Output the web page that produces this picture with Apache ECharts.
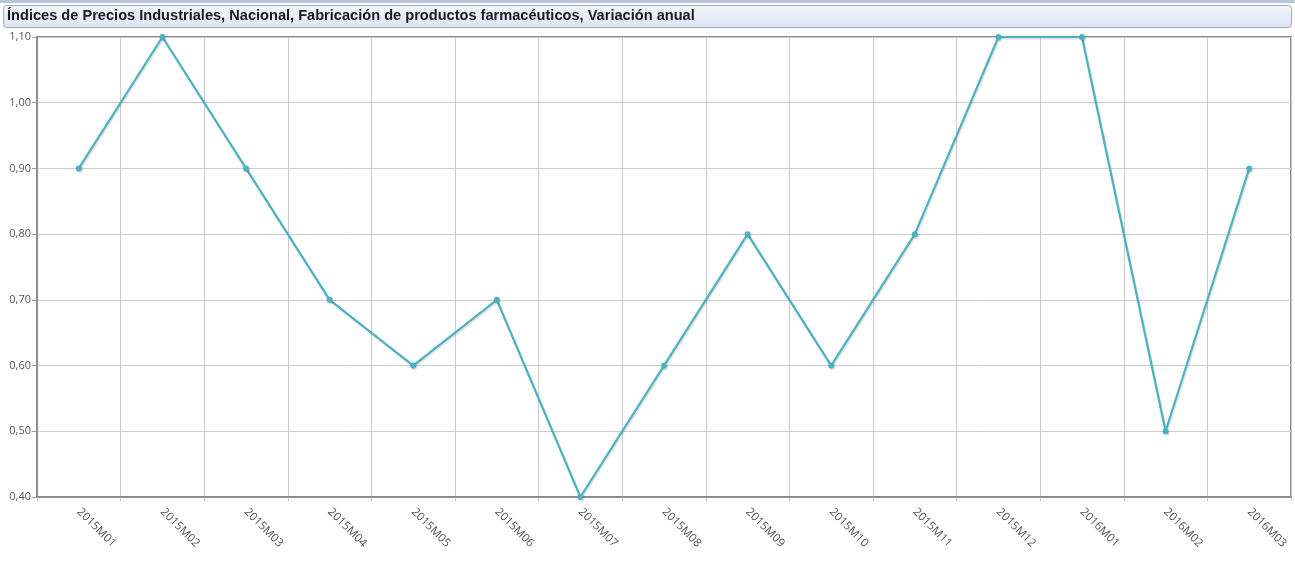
<!DOCTYPE html>
<html>
<head>
<meta charset="utf-8">
<script src="https://cdn.jsdelivr.net/npm/echarts@6/dist/echarts.min.js"></script>
<style>
html,body{margin:0;padding:0;background:#fff;}
#chart{width:1295px;height:561px;}
</style>
</head>
<body>
<div id="chart"></div>
<script>
const titleText = 'Índices de Precios Industriales, Nacional, Fabricación de productos farmacéuticos, Variación anual';
const categories = ['2015M01','2015M02','2015M03','2015M04','2015M05','2015M06','2015M07','2015M08','2015M09','2015M10','2015M11','2015M12','2016M01','2016M02','2016M03'];
const values = [0.9, 1.1, 0.9, 0.7, 0.6, 0.7, 0.4, 0.6, 0.8, 0.6, 0.8, 1.1, 1.1, 0.5, 0.9];
const yMin = 0.4, yMax = 1.1, yStep = 0.1;

const chart = echarts.init(document.getElementById('chart'), null, {renderer:'canvas'});
chart.setOption({
  animation:false,
  backgroundColor:'#fff',
  graphic:[
    {type:'rect', left:0, top:0, shape:{width:1295, height:3}, style:{fill:'#b7c5de'}, silent:true},
    {type:'rect', left:3, top:5, shape:{width:1288, height:22, r:3},
     style:{fill:new echarts.graphic.LinearGradient(0,0,0,1,[{offset:0,color:'#f3f6fc'},{offset:1,color:'#dbe3f4'}]), stroke:'#a3acbd', lineWidth:1}, silent:true},
    {type:'text', left:7, top:8, style:{text:titleText, font:'bold 14.6px "Liberation Sans", Arial, sans-serif', fill:'#1a1a1a'}, silent:true}
  ],
  grid:{left:37, top:37, right:4, bottom:64, show:true, borderColor:'#8c8c8c', borderWidth:2},
  xAxis:{
    type:'category', data:categories, boundaryGap:true,
    axisLine:{show:true, lineStyle:{color:'#8c8c8c', width:2}},
    axisTick:{show:true, length:4, lineStyle:{color:'#c0c0c0'}},
    axisLabel:{rotate:-45, margin:13, fontSize:11.5, color:'#555', fontFamily:'"Open Sans", sans-serif'},
    splitLine:{show:true, lineStyle:{color:'#cccccc', width:1}}
  },
  yAxis:{
    type:'value', min:yMin, max:yMax, interval:yStep,
    axisLine:{show:true, lineStyle:{color:'#8c8c8c', width:2}},
    axisTick:{show:true, length:5, lineStyle:{color:'#999'}},
    axisLabel:{fontSize:11, color:'#555', margin:6, fontFamily:'"Open Sans", sans-serif',
      formatter:v=>v.toFixed(2).replace('.',',')},
    splitLine:{show:true, lineStyle:{color:'#cccccc', width:1}}
  },
  series:[{
    type:'line', data:values, symbol:'circle', symbolSize:6, showSymbol:true,
    lineStyle:{color:'#4bb2c5', width:2.2, shadowColor:'rgba(0,0,0,0.12)', shadowOffsetX:1, shadowOffsetY:1.5, shadowBlur:1},
    itemStyle:{color:'#4bb2c5', shadowColor:'rgba(0,0,0,0.15)', shadowOffsetX:1, shadowOffsetY:1.5, shadowBlur:1},
    clip:false
  }]
});
</script>
</body>
</html>
